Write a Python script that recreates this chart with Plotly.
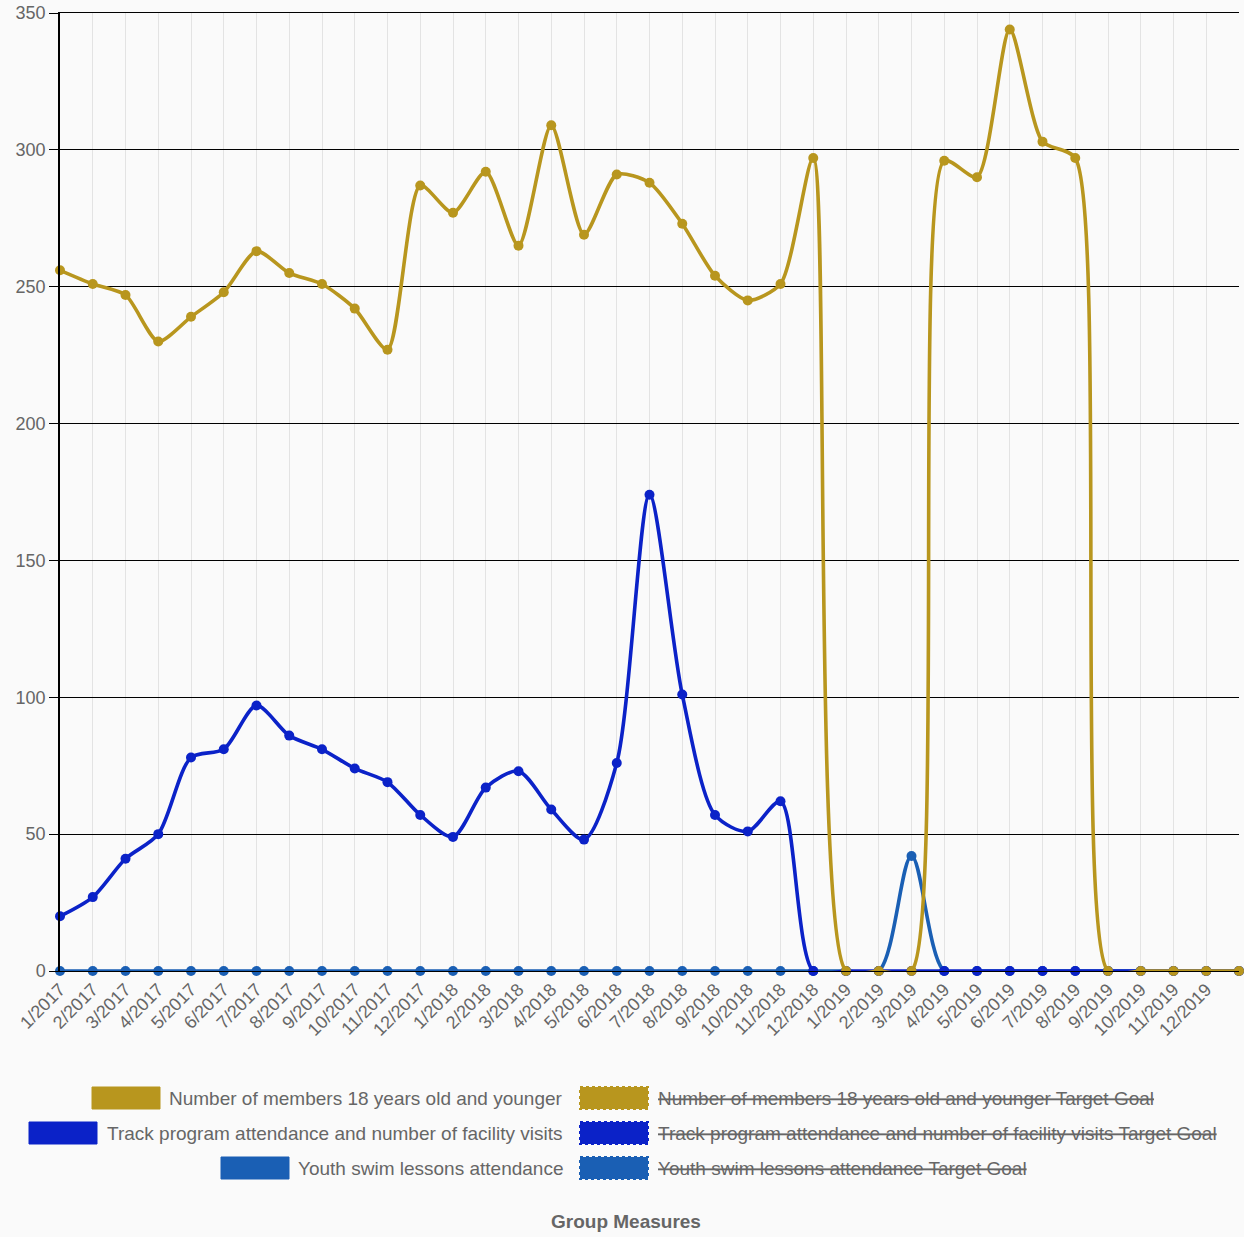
import plotly.graph_objects as go

months = ["1/2017", "2/2017", "3/2017", "4/2017", "5/2017", "6/2017", "7/2017", "8/2017", "9/2017",
          "10/2017", "11/2017", "12/2017", "1/2018", "2/2018", "3/2018", "4/2018", "5/2018", "6/2018",
          "7/2018", "8/2018", "9/2018", "10/2018", "11/2018", "12/2018", "1/2019", "2/2019", "3/2019",
          "4/2019", "5/2019", "6/2019", "7/2019", "8/2019", "9/2019", "10/2019", "11/2019", "12/2019", ""]

members = [256, 251, 247, 230, 239, 248, 263, 255, 251, 242, 227, 287, 277, 292, 265, 309, 269, 291,
           288, 273, 254, 245, 251, 297, 0, 0, 0, 296, 290, 344, 303, 297, 0, 0, 0, 0, 0]
track = [20, 27, 41, 50, 78, 81, 97, 86, 81, 74, 69, 57, 49, 67, 73, 59, 48, 76,
         174, 101, 57, 51, 62, 0, 0, 0, 0, 0, 0, 0, 0, 0, 0, 0, 0, 0, 0]
swim = [0, 0, 0, 0, 0, 0, 0, 0, 0, 0, 0, 0, 0, 0, 0, 0, 0, 0,
        0, 0, 0, 0, 0, 0, 0, 0, 42, 0, 0, 0, 0, 0, 0, 0, 0, 0, 0]

series_names = ["Number of members 18 years old and younger",
                "Track program attendance and number of facility visits",
                "Youth swim lessons attendance"]
goal_suffix = " Target Goal"
yticks = [0, 50, 100, 150, 200, 250, 300, 350]

GOLD = "#b8961e"
TRACK = "#0b22c8"
SWIM = "#1a5fb4"
colors = [GOLD, TRACK, SWIM]
GREY = "#666666"
FONT = "Liberation Sans, Arial, sans-serif"

x = list(range(len(months)))

fig = go.Figure()
# drawing order: swim (bottom), track, members (top)
for vals, col, sm in [(swim, SWIM, 0.9), (track, TRACK, 0.8), (members, GOLD, 0.7)]:
    fig.add_trace(go.Scatter(
        x=x, y=vals, mode="lines+markers",
        line=dict(color=col, width=3.6, shape="spline", smoothing=sm),
        marker=dict(color=col, size=10),
        showlegend=False, cliponaxis=False,
    ))

W, H = 1244, 1237
L, R, T, B = 60, 1239, 13, 971

fig.update_layout(
    width=W, height=H,
    margin=dict(l=L, r=W - R, t=T, b=H - B, autoexpand=False),
    paper_bgcolor="#fafafa", plot_bgcolor="#fafafa",
    font=dict(family=FONT, color=GREY, size=18),
    showlegend=False,
    xaxis=dict(
        range=[0, len(months) - 1], tickvals=x, ticktext=months, tickangle=-45,
        showgrid=True, gridcolor="#e3e3e3", gridwidth=1, zeroline=False,
        showline=True, mirror=True, linecolor="#000000", linewidth=1, ticks="",
        tickfont=dict(size=18, color=GREY, family=FONT), automargin=False,
    ),
    yaxis=dict(
        range=[0, 350], tickvals=yticks, showgrid=True, gridcolor="#000000", gridwidth=1,
        zeroline=False, showline=True, linecolor="#000000", linewidth=1.5,
        ticks="outside", ticklen=9, tickcolor="#000000",
        tickfont=dict(size=18, color=GREY, family=FONT), automargin=False,
    ),
)

def px(v):
    return (v - L) / (R - L)

def py(v):
    return (B - v) / (B - T)

# custom legend (two columns)
rows_y = [1098, 1133, 1168]
left_boxes = [(92, 160), (29, 97), (221, 289)]
right_text_end = 565
for i, (name, col) in enumerate(zip(series_names, colors)):
    yc = rows_y[i]
    bx0, bx1 = left_boxes[i]
    fig.add_shape(type="rect", xref="paper", yref="paper",
                  x0=px(bx0), x1=px(bx1), y0=py(yc - 11), y1=py(yc + 11),
                  fillcolor=col, line=dict(color=col, width=1))
    fig.add_annotation(x=px(right_text_end), y=py(yc), xref="paper", yref="paper",
                       text=name, showarrow=False, xanchor="right", yanchor="middle",
                       font=dict(size=19, color=GREY, family=FONT))
    fig.add_shape(type="rect", xref="paper", yref="paper",
                  x0=px(580), x1=px(648), y0=py(yc - 11), y1=py(yc + 11),
                  fillcolor=col, line=dict(color=col, width=2, dash="dot"))
    fig.add_annotation(x=px(656), y=py(yc), xref="paper", yref="paper",
                       text="<s>" + name + goal_suffix + "</s>", showarrow=False,
                       xanchor="left", yanchor="middle",
                       font=dict(size=19, color=GREY, family=FONT))

fig.add_annotation(x=px(626), y=py(1221), xref="paper", yref="paper",
                   text="<b>Group Measures</b>", showarrow=False, xanchor="center",
                   yanchor="middle", font=dict(size=19, color=GREY, family=FONT))

fig.write_html("out.html", config={"displayModeBar": False},
               post_script="document.body.style.margin='0';")
